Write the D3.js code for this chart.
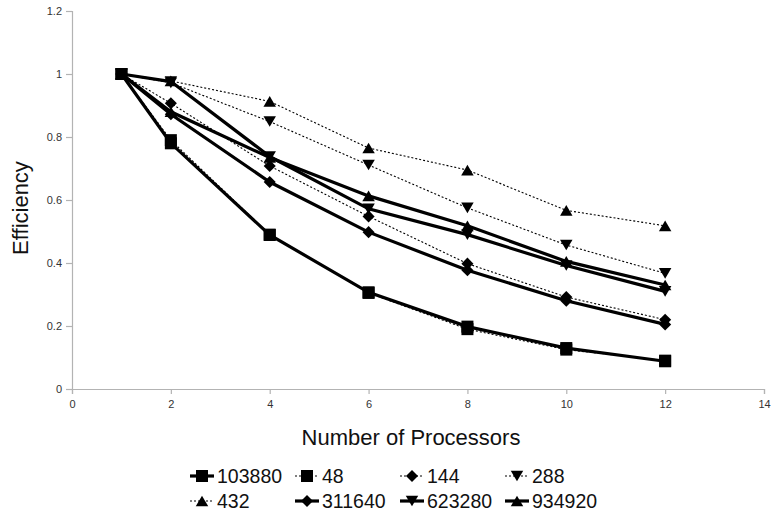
<!DOCTYPE html>
<html>
<head>
<meta charset="utf-8">
<script src="https://cdn.jsdelivr.net/npm/d3@7"></script>
<style>
  html, body { margin: 0; padding: 0; background: #fff; }
  svg { display: block; }
  text { font-family: "Liberation Sans", Arial, sans-serif; }
</style>
</head>
<body>
<svg id="chart" width="771" height="515"></svg>
<script>
// ---- data ----
const processors = [1, 2, 4, 6, 8, 10, 12];
const seriesNames = ["103880", "48", "144", "288", "432", "311640", "623280", "934920"];
const s103880 = [1, 0.780, 0.489, 0.307, 0.198, 0.130, 0.088];
const s48     = [1, 0.790, 0.490, 0.305, 0.190, 0.125, 0.090];
const s144    = [1, 0.907, 0.708, 0.548, 0.398, 0.292, 0.220];
const s288    = [1, 0.972, 0.849, 0.711, 0.575, 0.457, 0.367];
const s432    = [1, 0.978, 0.913, 0.765, 0.695, 0.567, 0.518];
const s311640 = [1, 0.872, 0.657, 0.498, 0.377, 0.280, 0.205];
const s623280 = [1, 0.976, 0.738, 0.572, 0.490, 0.392, 0.310];
const s934920 = [1, 0.880, 0.735, 0.613, 0.518, 0.405, 0.330];
const seriesValues = [s103880, s48, s144, s288, s432, s311640, s623280, s934920];
const seriesLine   = ["solid", "dotted", "dotted", "dotted", "dotted", "solid", "solid", "solid"];
const seriesMarker = ["square", "square", "diamond", "down", "up", "diamond", "down", "up"];
const xTicks = [0, 2, 4, 6, 8, 10, 12, 14];
const yTicks = [0, 0.2, 0.4, 0.6, 0.8, 1, 1.2];
const yTickLabels = ["0", "0.2", "0.4", "0.6", "0.8", "1", "1.2"];
const xTitle = "Number of Processors";
const yTitle = "Efficiency";

// ---- layout ----
const svg = d3.select("#chart");
const x = d3.scaleLinear().domain([0, 14]).range([72, 764]);
const y = d3.scaleLinear().domain([0, 1.2]).range([389, 11]);
const axisColor = "#b3b3b3";
const tickTextColor = "#333";

// marker shapes (custom d3 symbol types)
const symSquare = { draw(ctx, s) { const h = Math.sqrt(s) / 2; ctx.rect(-h, -h, 2 * h, 2 * h); } };
const symDiamond = { draw(ctx, s) { const h = Math.sqrt(s) / 2 * 1.05; ctx.moveTo(0, -h); ctx.lineTo(h, 0); ctx.lineTo(0, h); ctx.lineTo(-h, 0); ctx.closePath(); } };
const symUp = { draw(ctx, s) { const w = Math.sqrt(s) / 2; const hh = w * 0.85; ctx.moveTo(0, -hh); ctx.lineTo(w, hh); ctx.lineTo(-w, hh); ctx.closePath(); } };
const symDown = { draw(ctx, s) { const w = Math.sqrt(s) / 2; const hh = w * 0.85; ctx.moveTo(0, hh); ctx.lineTo(w, -hh); ctx.lineTo(-w, -hh); ctx.closePath(); } };
const symTypes = { square: symSquare, diamond: symDiamond, up: symUp, down: symDown };
function markerPath(kind) {
  const size = kind === "square" ? 144 : kind === "diamond" ? 132 : 156;
  return d3.symbol().type(symTypes[kind]).size(size)();
}

// ---- axes ----
const yAxis = d3.axisLeft(y).tickValues(yTicks).tickSize(6).tickPadding(4)
  .tickFormat((d, i) => yTickLabels[i]);
const gy = svg.append("g").attr("transform", `translate(${x(0)},0)`).call(yAxis);
const xAxis = d3.axisBottom(x).tickValues(xTicks).tickSize(5).tickPadding(6)
  .tickFormat(d3.format("d"));
const gx = svg.append("g").attr("transform", `translate(0,${y(0)})`).call(xAxis);
[gx, gy].forEach(g => {
  g.select(".domain").attr("stroke", axisColor).attr("stroke-width", 1.2);
  g.selectAll(".tick line").attr("stroke", axisColor).attr("stroke-width", 1.2);
  g.selectAll(".tick text").attr("fill", tickTextColor)
    .style("font-family", "'Liberation Sans', Arial, sans-serif").style("font-size", "11px");
});

// titles
svg.append("text")
  .attr("transform", `translate(28,208) rotate(-90)`)
  .attr("text-anchor", "middle")
  .style("font-size", "22px").attr("fill", "#111")
  .text(yTitle);
svg.append("text")
  .attr("x", 411).attr("y", 445)
  .attr("text-anchor", "middle")
  .style("font-size", "22px").attr("fill", "#111")
  .text(xTitle);

// ---- series ----
const line = d3.line().x((d, i) => x(processors[i])).y(d => y(d));
const order = d3.range(seriesNames.length).reverse();
order.forEach(k => {
  const solid = seriesLine[k] === "solid";
  const g = svg.append("g");
  g.append("path")
    .datum(seriesValues[k])
    .attr("fill", "none")
    .attr("stroke", "#000")
    .attr("stroke-width", solid ? 3.2 : 1.1)
    .attr("stroke-dasharray", solid ? null : "2,2")
    .attr("d", line);
  g.selectAll("path.m")
    .data(seriesValues[k])
    .join("path")
    .attr("class", "m")
    .attr("transform", (d, i) => `translate(${x(processors[i])},${y(d)})`)
    .attr("d", markerPath(seriesMarker[k]))
    .attr("fill", "#000");
});

// ---- legend ----
const legendCols = [190, 295, 400, 505];
const legendRows = [476, 501];
seriesNames.forEach((name, k) => {
  const col = k % 4, row = Math.floor(k / 4);
  const solid = seriesLine[k] === "solid";
  const lx = legendCols[col], ly = legendRows[row];
  const g = svg.append("g").attr("transform", `translate(${lx},${ly})`);
  g.append("line")
    .attr("x1", 0).attr("x2", 24).attr("y1", 0).attr("y2", 0)
    .attr("stroke", "#000")
    .attr("stroke-width", solid ? 3.2 : 1.1)
    .attr("stroke-dasharray", solid ? null : "2,2");
  g.append("path")
    .attr("transform", "translate(12,0)")
    .attr("d", markerPath(seriesMarker[k]))
    .attr("fill", "#000");
  g.append("text")
    .attr("x", 27).attr("y", 0).attr("dy", "0.35em")
    .style("font-size", "19.5px").attr("fill", "#111")
    .text(name);
});
</script>
</body>
</html>
